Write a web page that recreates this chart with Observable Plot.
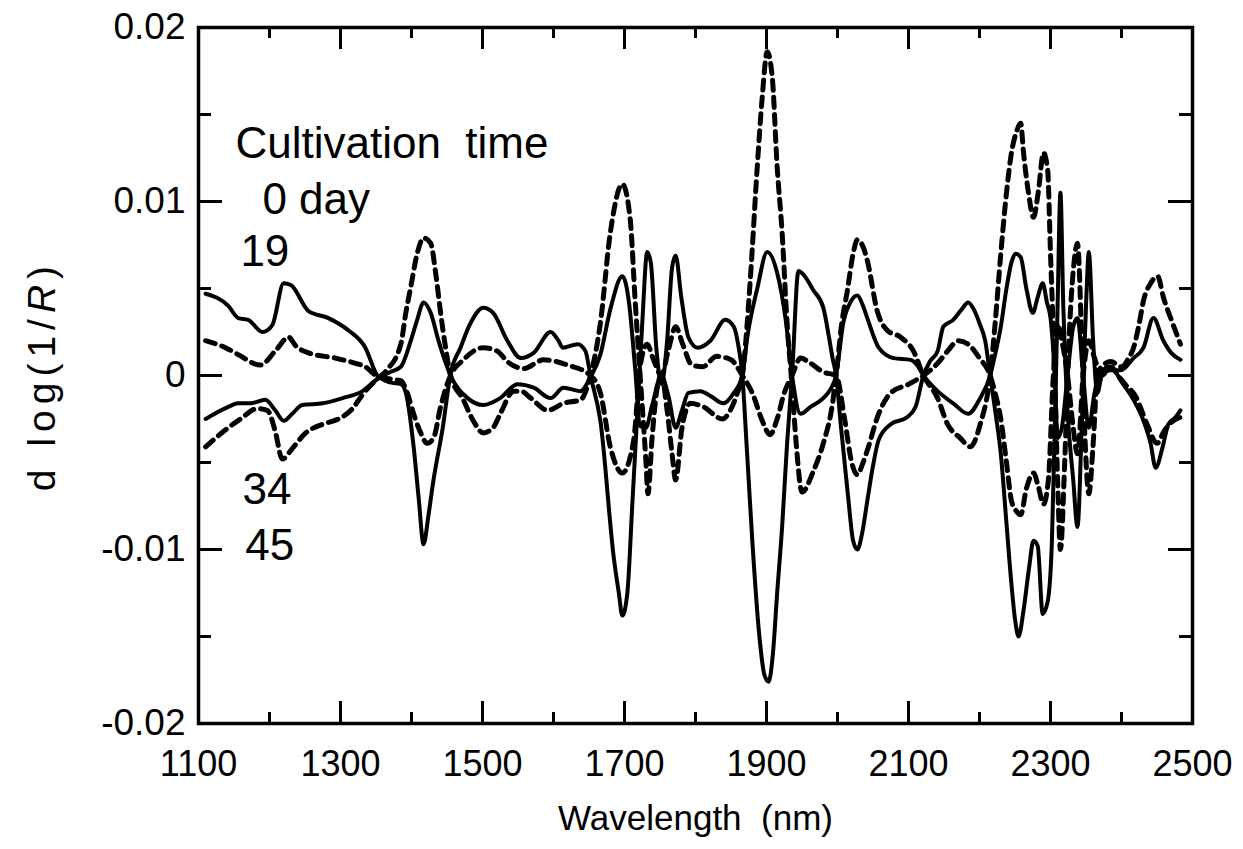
<!DOCTYPE html>
<html><head><meta charset="utf-8">
<script src="https://cdn.jsdelivr.net/npm/d3@7"></script>
<script src="https://cdn.jsdelivr.net/npm/@observablehq/plot@0.6"></script>
<style>body{margin:0;background:#fff;} svg{display:block}</style>
</head><body><div id="chart"></div>
<script>
// ---- data ----
const day0_nm = [1110,1142,1156,1170,1190,1204,1220,1230,1255,1283,1311,1335,1352,1370,1385,1392,1403,1410,1417,1424,1431,1444,1455,1469,1483,1501,1515,1535,1554,1572,1596,1607,1613,1634,1645,1652,1666,1685,1692,1697,1704,1711,1718,1725,1732,1737,1745,1752,1760,1767,1772,1780,1790,1803,1821,1842,1854,1860,1866,1872,1880,1890,1897,1903,1909,1915,1922,1929,1936,1945,1952,1966,1980,1988,1993,1998,2005,2015,2022,2028,2035,2042,2050,2058,2075,2098,2110,2121,2130,2141,2149,2163,2175,2184,2192,2200,2208,2215,2222,2230,2238,2245,2250,2255,2262,2270,2276,2282,2289,2296,2302,2306,2310,2314,2318,2324,2332,2338,2344,2350,2354,2360,2366,2372,2380,2390,2399,2417,2431,2441,2448,2458,2466,2476,2483];
const day0_val = [0.0047,0.0040,0.0033,0.0032,0.0025,0.0029,0.0053,0.0052,0.0037,0.0033,0.0026,0.0016,0.0000,-0.0004,-0.0005,-0.0010,-0.0041,-0.0070,-0.0097,-0.0080,-0.0060,-0.0030,0.0001,0.0016,0.0030,0.0039,0.0036,0.0020,0.0010,0.0013,0.0025,0.0020,0.0016,0.0018,0.0014,0.0000,-0.0026,-0.0105,-0.0125,-0.0138,-0.0125,-0.0074,-0.0022,0.0030,0.0071,0.0065,0.0015,-0.0005,0.0020,0.0062,0.0069,0.0045,0.0022,0.0016,0.0020,0.0032,0.0028,0.0018,0.0000,-0.0040,-0.0095,-0.0150,-0.0172,-0.0176,-0.0160,-0.0125,-0.0087,-0.0039,0.0000,0.0060,0.0058,0.0049,0.0039,0.0022,0.0010,0.0000,-0.0030,-0.0070,-0.0095,-0.0100,-0.0090,-0.0072,-0.0052,-0.0037,-0.0028,-0.0024,-0.0018,0.0000,0.0008,0.0014,0.0028,0.0032,0.0038,0.0042,0.0038,0.0030,0.0020,0.0000,-0.0020,-0.0045,-0.0085,-0.0120,-0.0140,-0.0150,-0.0135,-0.0110,-0.0095,-0.0098,-0.0137,-0.0130,-0.0095,-0.0030,0.0040,0.0105,0.0040,-0.0020,-0.0060,-0.0087,-0.0030,0.0040,0.0071,0.0020,-0.0010,0.0000,0.0005,0.0003,-0.0003,-0.0014,-0.0026,-0.0039,-0.0053,-0.0041,-0.0028,-0.0024,-0.0020];

const day19_nm = [1110,1138,1156,1187,1208,1227,1237,1255,1293,1321,1335,1350,1370,1385,1394,1403,1413,1422,1431,1441,1455,1473,1501,1521,1535,1558,1586,1620,1652,1666,1680,1697,1713,1722,1732,1740,1752,1762,1772,1782,1795,1810,1830,1850,1866,1880,1895,1905,1915,1925,1936,1948,1962,1980,1998,2010,2020,2028,2036,2042,2058,2075,2100,2121,2141,2155,2170,2184,2200,2215,2222,2230,2238,2245,2252,2258,2266,2276,2283,2290,2297,2304,2310,2316,2324,2332,2338,2346,2354,2362,2372,2385,2395,2405,2420,2436,2450,2460,2473,2483];
const day19_val = [0.0020,0.0016,0.0012,0.0006,0.0014,0.0022,0.0017,0.0013,0.0010,0.0007,0.0005,0.0000,-0.0002,-0.0003,-0.0010,-0.0022,-0.0033,-0.0039,-0.0036,-0.0018,0.0000,0.0009,0.0016,0.0014,0.0008,0.0004,0.0009,0.0006,0.0000,-0.0010,-0.0041,-0.0056,-0.0037,0.0005,0.0018,0.0010,0.0000,0.0015,0.0028,0.0018,0.0006,0.0005,0.0011,0.0009,0.0000,-0.0010,-0.0027,-0.0034,-0.0025,-0.0010,0.0000,0.0010,0.0007,0.0002,0.0000,-0.0025,-0.0050,-0.0057,-0.0050,-0.0043,-0.0022,-0.0010,-0.0005,0.0000,0.0007,0.0014,0.0020,0.0018,0.0010,0.0000,-0.0010,-0.0025,-0.0050,-0.0072,-0.0078,-0.0080,-0.0065,-0.0056,-0.0064,-0.0074,-0.0060,0.0000,0.0030,0.0020,0.0000,-0.0030,-0.0045,0.0000,0.0020,0.0010,0.0000,0.0005,0.0000,-0.0005,-0.0012,-0.0028,-0.0039,-0.0032,-0.0026,-0.0024];

const day34_nm = [1110,1142,1156,1173,1194,1208,1220,1232,1246,1275,1303,1331,1352,1370,1385,1399,1408,1417,1427,1438,1455,1479,1501,1525,1549,1572,1596,1614,1638,1652,1666,1680,1697,1706,1715,1722,1730,1739,1752,1762,1772,1781,1790,1807,1822,1839,1854,1866,1873,1887,1901,1915,1927,1936,1948,1962,1980,1990,1998,2008,2018,2028,2036,2042,2058,2079,2103,2112,2121,2141,2163,2184,2201,2215,2222,2230,2238,2245,2251,2258,2266,2275,2282,2289,2295,2300,2306,2310,2316,2324,2332,2338,2346,2354,2362,2372,2385,2399,2417,2431,2445,2459,2470,2483];
const day34_val = [-0.0025,-0.0018,-0.0016,-0.0016,-0.0014,-0.0020,-0.0026,-0.0022,-0.0017,-0.0016,-0.0013,-0.0009,-0.0002,0.0002,0.0005,0.0020,0.0032,0.0042,0.0036,0.0020,0.0000,-0.0013,-0.0017,-0.0013,-0.0005,-0.0007,-0.0013,-0.0007,-0.0009,-0.0001,0.0012,0.0038,0.0057,0.0043,0.0004,-0.0029,-0.0030,-0.0017,0.0000,-0.0012,-0.0030,-0.0020,-0.0010,-0.0009,-0.0012,-0.0016,-0.0010,0.0000,0.0022,0.0050,0.0071,0.0059,0.0032,0.0000,-0.0022,-0.0018,-0.0013,-0.0008,0.0000,0.0030,0.0042,0.0046,0.0040,0.0033,0.0016,0.0010,0.0009,0.0006,0.0000,-0.0009,-0.0016,-0.0022,-0.0013,0.0000,0.0012,0.0028,0.0050,0.0065,0.0070,0.0068,0.0050,0.0036,0.0045,0.0053,0.0042,0.0033,0.0000,-0.0036,-0.0030,0.0000,0.0028,0.0033,0.0000,-0.0030,-0.0010,0.0000,0.0003,0.0003,0.0010,0.0016,0.0033,0.0020,0.0013,0.0009];

const day45_nm = [1110,1142,1159,1183,1197,1208,1218,1232,1251,1275,1297,1317,1331,1349,1365,1385,1392,1399,1408,1417,1427,1434,1441,1448,1455,1473,1487,1501,1515,1525,1544,1554,1568,1592,1614,1638,1652,1666,1680,1697,1708,1715,1722,1730,1733,1739,1745,1752,1760,1767,1772,1781,1793,1811,1838,1849,1859,1866,1877,1887,1894,1901,1908,1915,1922,1929,1936,1942,1950,1966,1980,1993,1998,2006,2014,2022,2028,2036,2042,2056,2070,2089,2107,2121,2141,2155,2173,2187,2201,2215,2222,2230,2238,2245,2252,2258,2262,2269,2276,2283,2290,2296,2300,2306,2310,2314,2320,2326,2332,2338,2344,2349,2354,2360,2366,2372,2385,2400,2410,2417,2425,2431,2441,2451,2459,2472,2483];
const day45_val = [-0.0041,-0.0030,-0.0025,-0.0019,-0.0020,-0.0032,-0.0048,-0.0042,-0.0033,-0.0028,-0.0025,-0.0019,-0.0011,-0.0003,0.0003,0.0018,0.0036,0.0051,0.0070,0.0079,0.0076,0.0059,0.0036,0.0016,0.0000,-0.0014,-0.0026,-0.0033,-0.0030,-0.0022,-0.0009,-0.0009,-0.0013,-0.0020,-0.0016,-0.0014,0.0000,0.0030,0.0082,0.0110,0.0090,0.0043,0.0000,-0.0048,-0.0068,-0.0035,-0.0010,0.0000,-0.0020,-0.0045,-0.0060,-0.0030,-0.0016,-0.0018,-0.0025,-0.0020,-0.0010,0.0000,0.0054,0.0120,0.0160,0.0186,0.0172,0.0120,0.0082,0.0030,-0.0006,-0.0040,-0.0067,-0.0055,-0.0039,-0.0016,0.0000,0.0030,0.0049,0.0070,0.0078,0.0074,0.0066,0.0037,0.0026,0.0022,0.0014,0.0000,-0.0013,-0.0028,-0.0036,-0.0041,-0.0028,0.0000,0.0030,0.0070,0.0105,0.0128,0.0140,0.0145,0.0128,0.0105,0.0091,0.0106,0.0128,0.0118,0.0070,0.0000,-0.0060,-0.0100,-0.0050,0.0020,0.0060,0.0076,0.0020,-0.0040,-0.0068,-0.0040,0.0000,0.0005,0.0008,0.0005,0.0010,0.0016,0.0030,0.0043,0.0053,0.0057,0.0045,0.0030,0.0018];

const xMajorTicks = [1100,1300,1500,1700,1900,2100,2300,2500];
const xMinorTicks = [1200,1400,1600,1800,2000,2200,2400];
const yMajorTicks = [-0.02,-0.01,0,0.01,0.02];
const yTickLabels = ["-0.02","-0.01","0","0.01","0.02"];
const yMinorTicks = [-0.015,-0.005,0.005,0.015];
const xLabel = "Wavelength  (nm)";
const yLabel = "d log(1/R)";
const annotations = [
  {text: "Cultivation  time", nm: 1152, v: 0.0125},
  {text: "0 day", nm: 1190, v: 0.0093},
  {text: "19", nm: 1159, v: 0.0063},
  {text: "34", nm: 1162, v: -0.0074},
  {text: "45", nm: 1166, v: -0.0106}
];

// ---- build ----
const rows = (nm, val) => nm.map((x, i) => ({x, y: val[i]}));
const W = 1243, H = 849, mL = 198, mR = 51, mT = 27, mB = 126;
const pw = W - mL - mR, ph = H - mT - mB;
const FONT = "'Liberation Sans', Arial, Helvetica, sans-serif";

const solid = {x: "x", y: "y", stroke: "black", strokeWidth: 4, curve: "monotone-x", strokeLinejoin: "round"};
const dashed = {x: "x", y: "y", stroke: "black", strokeWidth: 5, strokeDasharray: "10,7", curve: "monotone-x"};

const chart = Plot.plot({
  width: W, height: H,
  marginLeft: mL, marginRight: mR, marginTop: mT, marginBottom: mB,
  x: {domain: [1100, 2500]},
  y: {domain: [-0.02, 0.02]},
  style: {fontFamily: FONT, background: "white", color: "black", overflow: "visible"},
  marks: [
    Plot.line(rows(day19_nm, day19_val), dashed),
    Plot.line(rows(day45_nm, day45_val), dashed),
    Plot.line(rows(day0_nm, day0_val), solid),
    Plot.line(rows(day34_nm, day34_val), solid),
    // inward ticks
    Plot.tickX(xMajorTicks, {x: d => d, insetTop: ph - 22, strokeWidth: 3}),
    Plot.tickX(xMinorTicks, {x: d => d, insetTop: ph - 11, strokeWidth: 3}),
    Plot.tickX(xMajorTicks, {x: d => d, insetBottom: ph - 22, strokeWidth: 3}),
    Plot.tickX(xMinorTicks, {x: d => d, insetBottom: ph - 11, strokeWidth: 3}),
    Plot.tickY(yMajorTicks, {y: d => d, insetRight: pw - 24, strokeWidth: 3}),
    Plot.tickY(yMinorTicks, {y: d => d, insetRight: pw - 13, strokeWidth: 3}),
    Plot.tickY(yMajorTicks, {y: d => d, insetLeft: pw - 24, strokeWidth: 3}),
    Plot.tickY(yMinorTicks, {y: d => d, insetLeft: pw - 13, strokeWidth: 3}),
    Plot.frame({stroke: "black", strokeWidth: 3.5}),
    Plot.axisX(xMajorTicks, {tickSize: 0, tickPadding: 27, fontSize: 36, tickFormat: d => String(d), label: null}),
    Plot.axisY(yMajorTicks, {tickSize: 0, tickPadding: 13, fontSize: 37, tickFormat: d => yTickLabels[yMajorTicks.indexOf(d)], label: null}),
    Plot.text([xLabel], {frameAnchor: "bottom", dy: 106, text: d => d, fontSize: 35, lineAnchor: "bottom"}),
    Plot.text([yLabel], {frameAnchor: "left", dx: -156, rotate: -90, text: d => d, fontSize: 39, textAnchor: "middle", lineAnchor: "middle"}),
    Plot.text(annotations, {x: "nm", y: "v", text: "text", textAnchor: "start", lineAnchor: "bottom", fontSize: 44})
  ]
});
document.getElementById("chart").appendChild(chart);

// italic R in the y label, slightly spaced like the original
d3.select(chart).selectAll("text").each(function() {
  if (this.textContent === yLabel) {
    this.textContent = "";
    const t = d3.select(this).attr("letter-spacing", "6px");
    t.append("tspan").text("d log(1/");
    t.append("tspan").attr("font-style", "italic").text("R");
    t.append("tspan").text(")");
  }
});
</script>
</body></html>
